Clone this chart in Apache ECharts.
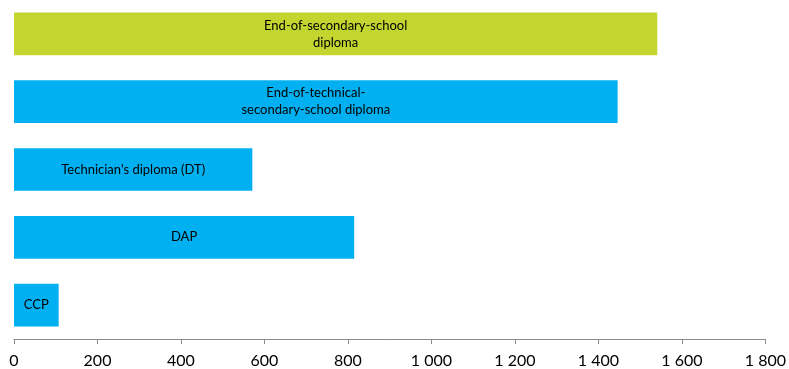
<!DOCTYPE html>
<html>
<head>
<meta charset="utf-8">
<script src="https://cdn.jsdelivr.net/npm/echarts@6/dist/echarts.min.js"></script>
<style>
  html, body { margin: 0; padding: 0; background: #ffffff; }
  #chart { width: 789px; height: 369px; }
</style>
</head>
<body>
<div id="chart"></div>
<script>
// Diplomas, listed bottom to top
const categories = [
  'CCP',
  'DAP',
  "Technician's diploma (DT)",
  'End-of-technical-\nsecondary-school diploma',
  'End-of-secondary-school\ndiploma'
];
const values = [107, 815, 571, 1446, 1541];
const barColors = ['#00B0F0', '#00B0F0', '#00B0F0', '#00B0F0', '#C4D52F'];
const xTicks = [0, 200, 400, 600, 800, 1000, 1200, 1400, 1600, 1800];

const fmt = v => String(v).replace(/\B(?=(\d{3})+(?!\d))/g, ' ');

const chart = echarts.init(document.getElementById('chart'));
chart.setOption({
  animation: false,
  grid: { left: 14, right: 23, top: 0, bottom: 30, containLabel: false },
  xAxis: {
    type: 'value',
    min: xTicks[0],
    max: xTicks[xTicks.length - 1],
    interval: 200,
    axisLine: { show: true, lineStyle: { color: '#8c8c8c', width: 1 } },
    axisTick: { show: true, inside: false, length: 5, lineStyle: { color: '#8c8c8c' } },
    splitLine: { show: false },
    axisLabel: {
      formatter: fmt,
      color: '#000000',
      fontFamily: 'Lato',
      fontSize: 16,
      margin: 14
    }
  },
  yAxis: {
    type: 'category',
    data: categories,
    axisLine: { show: false },
    axisTick: { show: false },
    axisLabel: { show: false }
  },
  series: [{
    type: 'bar',
    data: values.map((v, i) => ({ value: v, itemStyle: { color: barColors[i] } })),
    barCategoryGap: '37%',
    label: {
      show: true,
      position: 'inside',
      formatter: p => categories[p.dataIndex],
      color: '#000000',
      fontFamily: 'Lato',
      fontSize: 13,
      lineHeight: 17,
      align: 'center'
    }
  }]
});
</script>
</body>
</html>
